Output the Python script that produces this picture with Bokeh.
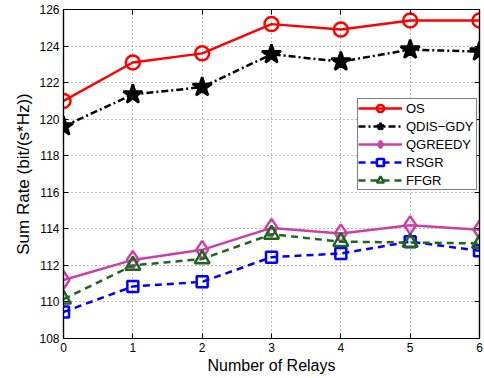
from bokeh.plotting import figure
from bokeh.models import LinearAxis, Range1d, FixedTicker, Legend, CustomLabelingPolicy
from bokeh.embed import file_html
from bokeh.resources import INLINE

relays = [0, 1, 2, 3, 4, 5, 6]
os_rate = [121.0, 123.1, 123.6, 125.2, 124.9, 125.4, 125.4]
qdis_gdy = [119.6, 121.35, 121.75, 123.55, 123.15, 123.8, 123.7]
qgreedy = [111.2, 112.3, 112.85, 114.05, 113.75, 114.2, 113.95]
rsgr = [109.45, 110.85, 111.1, 112.45, 112.65, 113.3, 112.8]
ffgr = [110.15, 112.0, 112.35, 113.7, 113.3, 113.25, 113.2]
x_ticks = [0, 1, 2, 3, 4, 5, 6]
y_ticks = [108, 110, 112, 114, 116, 118, 120, 122, 124, 126]

FONT = "Liberation Sans"

p = figure(width=484, height=378, output_backend="svg", toolbar_location=None,
           x_range=Range1d(0, 6), y_range=Range1d(108, 126),
           min_border_left=63, min_border_right=3, min_border_top=9, min_border_bottom=40)
p.outline_line_color = "black"
p.outline_line_width = 1.2

for ax in (p.xaxis[0], p.yaxis[0]):
    ax.major_label_text_font = FONT
    ax.major_label_text_font_size = "12px"
    ax.major_label_text_color = "black"
    ax.axis_label_text_font = FONT
    ax.axis_label_text_color = "black"
    ax.axis_label_text_font_style = "normal"
    ax.major_tick_in = 5
    ax.major_tick_out = 0
    ax.major_tick_line_color = "black"
    ax.axis_line_color = "black"
    ax.minor_tick_line_color = None
    ax.axis_line_width = 1.2
p.xaxis.ticker = FixedTicker(ticks=x_ticks)
p.yaxis.ticker = FixedTicker(ticks=y_ticks)
p.xaxis.axis_label = "Number of Relays"
p.yaxis.axis_label = "Sum Rate (bit/(s*Hz))"
p.xaxis.axis_label_text_font_size = "16px"
p.yaxis.axis_label_text_font_size = "17px"
p.xaxis.axis_label_standoff = 2
p.yaxis.axis_label_standoff = 3
p.xaxis.major_label_standoff = 4
p.yaxis.major_label_standoff = 4

# mirrored tick marks on the top and right edges, without labels
hide_all = CustomLabelingPolicy(code="for (const i of indices) indices.unset(i); return indices;")
for loc, ticks in (("above", x_ticks), ("right", y_ticks)):
    mirror = LinearAxis(ticker=FixedTicker(ticks=ticks), major_label_policy=hide_all,
                        major_label_text_font_size="1px", major_label_standoff=0,
                        major_tick_in=5, major_tick_out=0, minor_tick_line_color=None,
                        axis_line_width=1.2, axis_line_color="black",
                        major_tick_line_color="black")
    p.add_layout(mirror, loc)

p.xgrid[0].ticker = FixedTicker(ticks=x_ticks)
p.ygrid[0].ticker = FixedTicker(ticks=y_ticks)
for g in (p.xgrid[0], p.ygrid[0]):
    g.grid_line_color = "#777777"
    g.grid_line_dash = "1 3"
    g.grid_line_width = 1

items = []
series = [
    ("OS", os_rate, "red", "solid", "circle", 14, None),
    ("QDIS\u2212GDY", qdis_gdy, "black", "7 3 2 3", "star", 20, "black"),
    ("QGREEDY", qgreedy, "#cc3fa6", "solid", "diamond", 18, None),
    ("RSGR", rsgr, "blue", "7 5", "square", 11, None),
    ("FFGR", ffgr, "#1f6420", "7 5", "triangle", 15, None),
]
for name, ys, color, dash, marker, size, fill in series:
    ln = p.line(relays, ys, line_color=color, line_width=2.5, line_dash=dash)
    sc = p.scatter(relays, ys, marker=marker, size=size, line_color=color,
                   line_width=2.5, fill_color=fill if fill else "white",
                   fill_alpha=1.0 if fill else 0.0)
    items.append((name, [ln, sc]))

legend = Legend(items=items, location=(294, 148))
legend.label_text_font = FONT
legend.label_text_font_size = "13px"
legend.label_text_color = "black"
legend.border_line_color = "black"
legend.border_line_width = 1
legend.glyph_width = 44
legend.glyph_height = 18
legend.label_height = 16
legend.label_width = 70
legend.spacing = -1
legend.padding = 0
legend.margin = 0
legend.label_standoff = 4
p.add_layout(legend, "center")

open("out.html", "w").write(file_html(p, INLINE))
